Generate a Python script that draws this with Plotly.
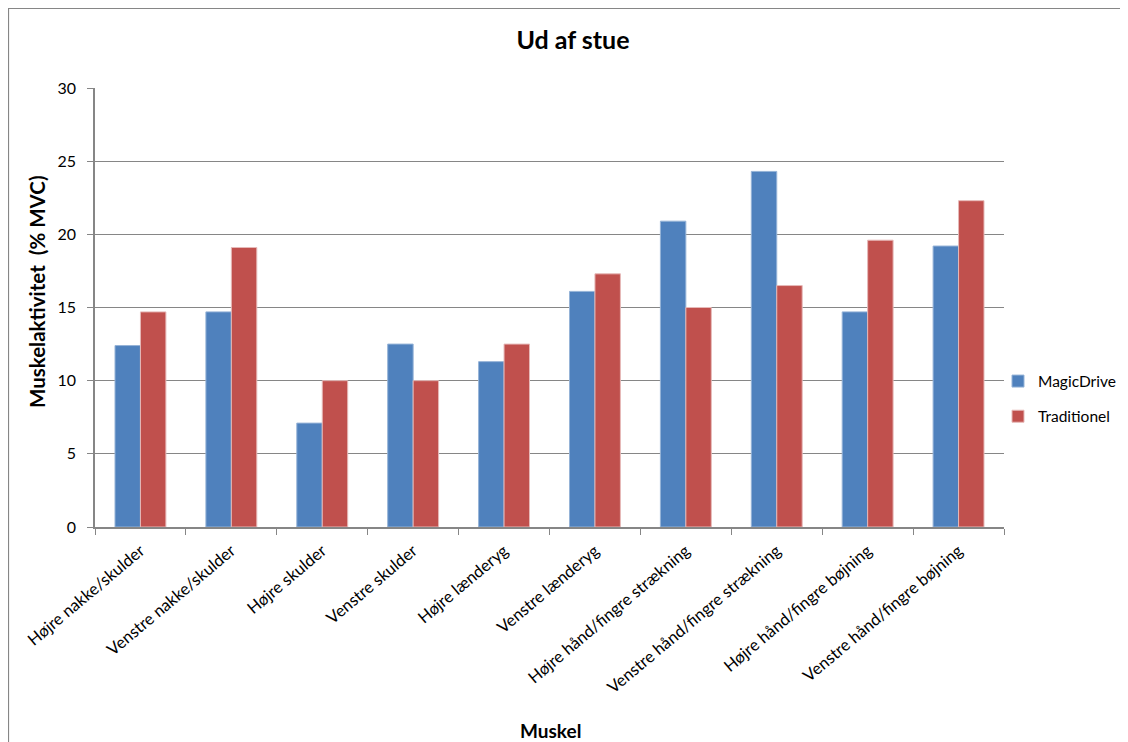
import plotly.graph_objects as go

categories = ["Højre nakke/skulder", "Venstre nakke/skulder", "Højre skulder", "Venstre skulder",
              "Højre lænderyg", "Venstre lænderyg", "Højre hånd/fingre strækning",
              "Venstre hånd/fingre strækning", "Højre hånd/fingre bøjning", "Venstre hånd/fingre bøjning"]
magicdrive = [12.4, 14.7, 7.1, 12.5, 11.3, 16.1, 20.9, 24.3, 14.7, 19.2]
traditionel = [14.7, 19.1, 10.0, 10.0, 12.5, 17.3, 15.0, 16.5, 19.6, 22.3]
y_ticks = [0, 5, 10, 15, 20, 25, 30]

FONT = "Lato"
W, H = 1112, 734
L, R, T, B = 87, 116, 80, 215
PW = W - L - R
PH = H - T - B


def px(x):
    return (x - L) / PW


def py(y):
    return (H - B - y) / PH


fig = go.Figure()
fig.add_trace(go.Bar(x=categories, y=magicdrive, name="MagicDrive", legendgroup="a",
                     marker=dict(color="#4F81BD", line=dict(color="#95B3D7", width=1))))
fig.add_trace(go.Bar(x=categories, y=traditionel, name="Traditionel", legendgroup="b",
                     marker=dict(color="#C0504D", line=dict(color="#E6B9B8", width=1))))

fig.update_layout(
    width=W, height=H,
    margin=dict(l=L, r=R, t=T, b=B, autoexpand=False),
    paper_bgcolor="white", plot_bgcolor="white",
    barmode="group", bargap=0.44, bargroupgap=0,
    font=dict(family=FONT, color="#000000", size=15),
    title=dict(text="<b>Ud af stue</b>", x=565 / W, xanchor="center",
               y=1 - 32 / H, yanchor="middle", font=dict(size=25, family=FONT)),
    legend=dict(x=px(990), y=py(391), xanchor="left", yanchor="middle",
                font=dict(size=15.5, family=FONT), itemwidth=30, tracegroupgap=12,
                bgcolor="rgba(0,0,0,0)"),
    xaxis=dict(showline=True, linecolor="#868686", linewidth=1.5, ticks="outside",
               tickson="boundaries", ticklen=6, tickcolor="#868686", tickangle=-40,
               tickfont=dict(size=16.5, family=FONT), showgrid=False, automargin=False,
               ticklabelstandoff=6),
    yaxis=dict(range=[0, 30], tickvals=y_ticks, showline=True, linecolor="#868686",
               linewidth=1.5, ticks="outside", ticklen=6, tickcolor="#868686",
               gridcolor="#868686", gridwidth=1, tickfont=dict(size=16, family=FONT),
               zeroline=False, automargin=False, ticklabelstandoff=8),
    shapes=[dict(type="rect", xref="paper", yref="paper",
                 x0=px(0.5), x1=1.3, y0=-0.6, y1=py(0.5),
                 line=dict(color="#868686", width=1.2), fillcolor="rgba(0,0,0,0)", layer="below")],
    annotations=[
        dict(text="<b>Muskelaktivitet  (% MVC)</b>", xref="paper", yref="paper",
             x=px(29), y=py(284), textangle=-90, showarrow=False,
             xanchor="center", yanchor="middle", font=dict(size=20.5, family=FONT)),
        dict(text="<b>Muskel</b>", xref="paper", yref="paper",
             x=px(542), y=py(722), showarrow=False,
             xanchor="center", yanchor="middle", font=dict(size=19, family=FONT)),
    ],
)

fig.write_html("out.html")
